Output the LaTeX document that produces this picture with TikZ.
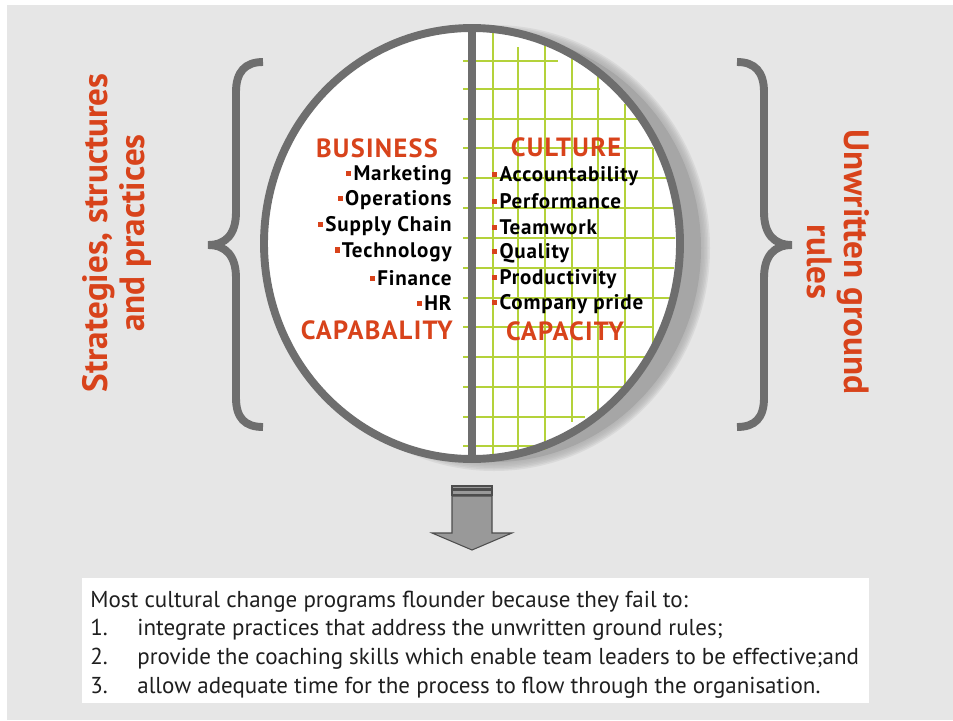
\documentclass[tikz,border=0pt]{standalone}
\usepackage{fontspec}
\setmainfont{PT Sans}
\newfontfamily\spacedfont{PT Sans}[LetterSpace=4]
\newfontfamily\headfont{PT Sans}[LetterSpace=5]
\usepackage{tikz}
\definecolor{bggray}{HTML}{E6E6E6}
\definecolor{ringgray}{HTML}{6E6E6E}
\definecolor{shadegray}{HTML}{A6A6A6}
\definecolor{gridgreen}{HTML}{B4D23A}
\definecolor{brandred}{HTML}{D8431B}
\definecolor{arrowfill}{HTML}{999999}
\definecolor{arrowline}{HTML}{4D4D4D}
\tikzset{ring/.style = {draw = ringgray, line width = 4.5pt},
  brace/.style = {draw = ringgray, line width = 4.5pt},
  gridline/.style = {draw = gridgreen, line width = 1.1pt},
  headword/.style = {inner sep = 0, text = brandred, font = \headfont\fontsize{15}{18}\selectfont\bfseries},
  listitem/.style = {inner sep = 0, font = \spacedfont\fontsize{12}{14}\selectfont\bfseries},
  sidetext/.style = {inner sep = 0, text = brandred, align = center, font = \fontsize{20}{21}\selectfont\bfseries},
  notetext/.style = {inner sep = 0, anchor = base west, text = black!88, font = \fontsize{13.1}{15}\selectfont},
  blockarrow/.style = {fill = arrowfill, draw = arrowline, line width = 0.6pt}}
\newcommand{\bul}{\textcolor{brandred}{\rule[0.22em]{0.24em}{0.24em}}\kern0.1em}

\begin{document}
\begin{tikzpicture}[x = 0.02cm, y = -0.02cm]
    \useasboundingbox (0, 0) rectangle (953, 720);
    \fill [bggray] (7, 5) rectangle (953, 720);

    % shadow
    \foreach \k in {6, 5, ..., 1}
      \fill [shadegray, opacity = 0.2] (494, 248) ellipse [x radius = 207 + 1.5 * \k, y radius = 214 + 1.5 * \k];
    \fill [shadegray] (494, 248) ellipse [x radius = 207, y radius = 214];

    \fill [white] (472, 243.5) ellipse [x radius = 208, y radius = 215.5];

    % grid
    \foreach \y/\xe in {61/558, 89/600, 119/640, 148/653, 178/668, 208/674, 238/675, 268/674, 298/670, 327/653, 357/650, 387/627, 417/585, 446/540}
      \draw [gridline] (463, \y) -- (\xe, \y);
    \foreach \x/\ya/\yb in {493/29/456, 518/47/454, 545/44/450, 572/59/422, 598/73/417, 625/104/387, 653/148/343}
      \draw [gridline] (\x, \ya) -- (\x, \yb);

    \draw [ring] (472, 243.5) ellipse [x radius = 208, y radius = 215.5];
    \draw [ring, line width = 5pt] (472, 24) -- (472, 463);

    % braces
    \draw [brace] (263, 62) .. controls (245, 62) and (236, 72) .. (236, 92) -- (236, 212)
      .. controls (236, 234) and (226, 245) .. (208, 245) .. controls (226, 245) and (236, 256) .. (236, 278)
      -- (236, 398) .. controls (236, 418) and (245, 427) .. (263, 427);
    \draw [brace] (737, 62) .. controls (755, 62) and (764, 72) .. (764, 92) -- (764, 212)
      .. controls (764, 234) and (774, 245) .. (792, 245) .. controls (774, 245) and (764, 256) .. (764, 278)
      -- (764, 398) .. controls (764, 418) and (755, 427) .. (737, 427);

    \node [sidetext, rotate = 90] (leftlabel) at (117, 233) {Strategies, structures\\and practices};
    \node [sidetext, rotate = -90] (rightlabel) at (838, 262) {Unwritten ground\\rules};

    % business half
    \node [headword] (business) at (377, 148) {BUSINESS};
    \node [listitem, anchor = east] (mkt) at (452, 175) {\bul Marketing};
    \node [listitem, anchor = east] (ops) at (452, 200) {\bul Operations};
    \node [listitem, anchor = east] (supply) at (452, 226) {\bul Supply Chain};
    \node [listitem, anchor = east] (tech) at (452, 252) {\bul Technology};
    \node [listitem, anchor = east] (fin) at (452, 278) {\bul Finance};
    \node [listitem, anchor = east] (hr) at (452, 303) {\bul HR};
    \node [headword, anchor = east] (capability) at (453, 330) {CAPABALITY};

    % culture half
    \node [headword] (culture) at (566, 147) {CULTURE};
    \node [listitem, anchor = west] (acc) at (492, 176) {\bul Accountability};
    \node [listitem, anchor = west] (perf) at (492, 201) {\bul Performance};
    \node [listitem, anchor = west] (team) at (492, 227) {\bul Teamwork};
    \node [listitem, anchor = west] (qual) at (492, 253) {\bul Quality};
    \node [listitem, anchor = west] (prod) at (492, 279) {\bul Productivity};
    \node [listitem, anchor = west] (pride) at (492, 304) {\bul Company pride};
    \node [headword] (capacity) at (565, 331) {CAPACITY};

    % arrow
    \draw [blockarrow] (452, 486) rectangle (492, 489);
    \draw [blockarrow] (452, 490) rectangle (492, 495);
    \draw [blockarrow] (452, 496) -- (492, 496) -- (492, 533) -- (512, 533) -- (472, 550)
      -- (432, 533) -- (452, 533) -- cycle;

    % note
    \fill [white] (82, 578) rectangle (869, 703);
    \node [notetext] (note) at (90, 607) {Most cultural change programs flounder because they fail to:};
    \node [notetext] (num1) at (90, 635) {1.};
    \node [notetext] (item1) at (137, 635) {integrate practices that address the unwritten ground rules;};
    \node [notetext] (num2) at (90, 664) {2.};
    \node [notetext] (item2) at (137, 664) {provide the coaching skills which enable team leaders to be effective;and};
    \node [notetext] (num3) at (90, 693) {3.};
    \node [notetext] (item3) at (137, 693) {allow adequate time for the process to flow through the organisation.};
\end{tikzpicture}
\end{document}
